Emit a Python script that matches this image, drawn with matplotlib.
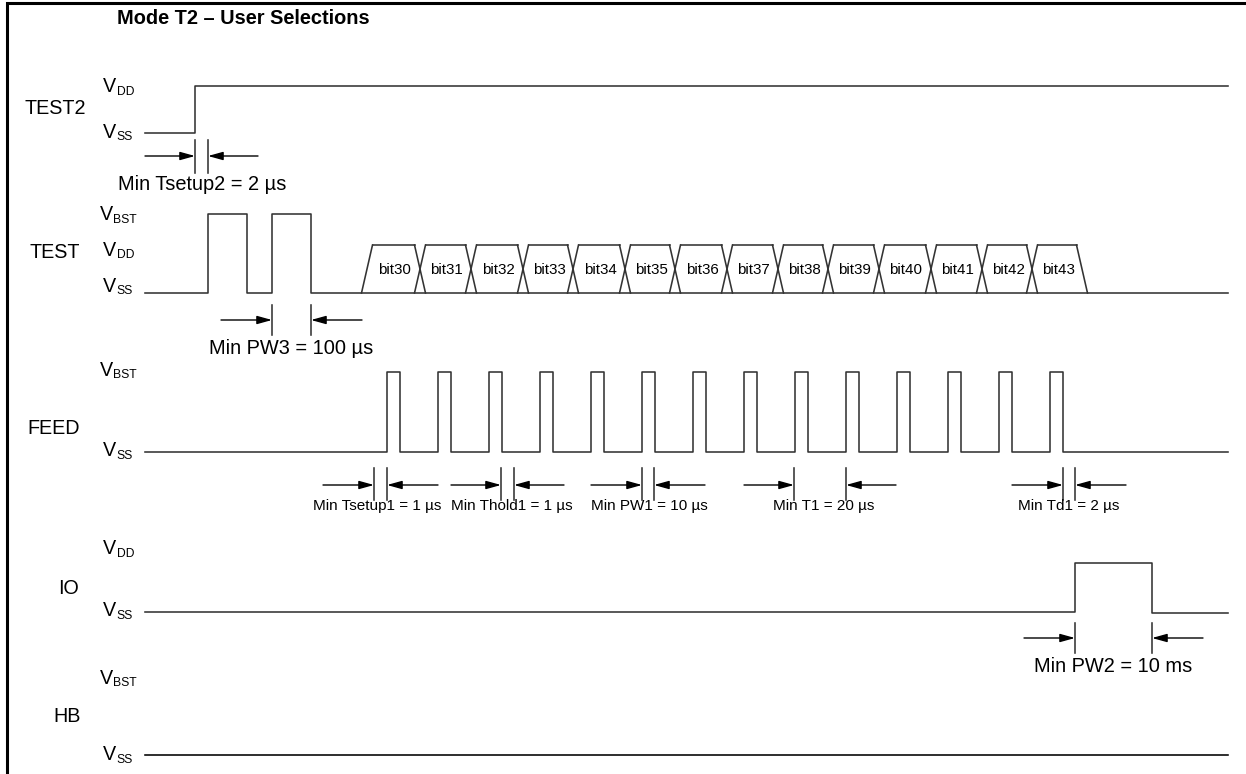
import matplotlib
matplotlib.use("Agg")
import matplotlib.pyplot as plt

# ---------------- data (time axis in diagram units) ----------------
t_start = 145
t_end = 1228
test2_rise = 195
test_pulse_starts = [208, 272]
test_pulse_ends = [247, 311]
bus_transitions = [367, 420, 471, 523, 573, 625, 675, 727, 778, 828, 879, 931, 982, 1032, 1082]
bit_labels = ["bit30", "bit31", "bit32", "bit33", "bit34", "bit35", "bit36",
              "bit37", "bit38", "bit39", "bit40", "bit41", "bit42", "bit43"]
feed_rises = [387, 438, 489, 540, 591, 642, 693, 744, 795, 846, 897, 948, 999, 1050]
feed_width = 13
io_pulse_start = 1075
io_pulse_end = 1152

signal_names = ["TEST2", "TEST", "FEED", "IO", "HB"]

# timing annotations: (edge A, edge B, text)
ann_marks_a = [195, 272, 374, 501, 642, 794, 1063, 1075]
ann_marks_b = [208, 311, 387, 514, 654, 846, 1075, 1152]
ann_texts = ["Min Tsetup2 = 2 µs", "Min PW3 = 100 µs", "Min Tsetup1 = 1 µs",
             "Min Thold1 = 1 µs", "Min PW1 = 10 µs", "Min T1 = 20 µs",
             "Min Td1 = 2 µs", "Min PW2 = 10 ms"]

# ---------------- layout ----------------
W, H = 1246, 774
fig = plt.figure(figsize=(W / 100, H / 100), dpi=100)
ax = fig.add_axes([0, 0, 1, 1])
ax.set_xlim(0, W)
ax.set_ylim(H, 0)
ax.axis("off")

FONT = "Liberation Sans"
LC = "#333333"
LW = 1.15

# border (left and top)
ax.plot([7, 7, W + 5], [H + 5, 3, 3], color="black", lw=2.2, solid_joinstyle="miter")

ax.text(117, 19, "Mode T2 – User Selections", fontsize=14.4, fontweight="bold",
        family=FONT, ha="left", va="center")

# signal labels
label_pos = {"TEST2": (55, 109), "TEST": (55, 253), "FEED": (54, 428), "IO": (68, 588), "HB": (67, 717)}
for name in signal_names:
    x, y = label_pos[name]
    ax.text(x, y, name, fontsize=14.2, family=FONT, ha="center", va="center")

def vlabel(x, y, sub):
    ax.text(x, y, "V", fontsize=14.2, family=FONT, ha="left", va="center")
    ax.text(x + 13.5, y + 5, sub, fontsize=8.7, family=FONT, ha="left", va="center")

for x, y, s in [(103, 87, "DD"), (103, 132, "SS"),
                (100, 215, "BST"), (103, 250, "DD"), (103, 286, "SS"),
                (100, 370, "BST"), (103, 451, "SS"),
                (103, 549, "DD"), (103, 611, "SS"),
                (100, 678, "BST"), (103, 755, "SS")]:
    vlabel(x, y, s)

# ---------------- waveforms ----------------
# TEST2
y_lo, y_hi = 133, 86
ax.plot([t_start, test2_rise, test2_rise, t_end], [y_lo, y_lo, y_hi, y_hi], color=LC, lw=LW)

# TEST
y_lo, y_hi = 293, 214
xs, ys = [t_start], [y_lo]
for a, b in zip(test_pulse_starts, test_pulse_ends):
    xs += [a, a, b, b]
    ys += [y_lo, y_hi, y_hi, y_lo]
xs.append(t_end)
ys.append(y_lo)
ax.plot(xs, ys, color=LC, lw=LW)

# bus
bus_top, bus_bot = 245, 293
h = 5.5
t0 = bus_transitions[0]
t_last = bus_transitions[-1]
ax.plot([t0 - h, t0 + h], [bus_bot, bus_top], color=LC, lw=LW)
ax.plot([t_last - h, t_last + h], [bus_top, bus_bot], color=LC, lw=LW)
for t in bus_transitions[1:-1]:
    ax.plot([t - h, t + h], [bus_top, bus_bot], color=LC, lw=LW)
    ax.plot([t - h, t + h], [bus_bot, bus_top], color=LC, lw=LW)
for i, lab in enumerate(bit_labels):
    a, b = bus_transitions[i], bus_transitions[i + 1]
    ax.plot([a + h, b - h], [bus_top, bus_top], color=LC, lw=LW)
    ax.text((a + b) / 2 + 1, (bus_top + bus_bot) / 2 + 1, lab, fontsize=10.9, family=FONT,
            ha="center", va="center")

# FEED
y_lo, y_hi = 452, 372
xs, ys = [t_start], [y_lo]
for r in feed_rises:
    xs += [r, r, r + feed_width, r + feed_width]
    ys += [y_lo, y_hi, y_hi, y_lo]
xs.append(t_end)
ys.append(y_lo)
ax.plot(xs, ys, color=LC, lw=LW)

# IO
y_lo, y_hi = 612, 563
ax.plot([t_start, io_pulse_start, io_pulse_start, io_pulse_end, io_pulse_end, t_end],
        [y_lo, y_lo, y_hi, y_hi, y_lo + 1, y_lo + 1], color=LC, lw=LW)

# HB
ax.plot([t_start, t_end], [755, 755], color="black", lw=LW)

# ---------------- annotations ----------------
# (marker top, marker bottom, arrow y, arrow length, text x, text y, font size)
ann_geom = [
    (140, 173, 156, 50, 202, 185, 14.4),
    (305, 335, 320, 51, 291, 349, 14.4),
    (468, 500, 485, 51, 377, 506, 11),
    (468, 500, 485, 50, 512, 506, 11),
    (468, 500, 485, 51, 649, 506, 11),
    (468, 500, 485, 50, 824, 506, 11),
    (468, 500, 485, 51, 1069, 506, 11),
    (623, 653, 638, 51, 1113, 666, 14.4),
]
for a, b, txt, (ytop, ybot, yarr, alen, tx, ty, fs) in zip(ann_marks_a, ann_marks_b, ann_texts, ann_geom):
    ax.plot([a, a], [ytop, ybot], color=LC, lw=LW)
    ax.plot([b, b], [ytop, ybot], color=LC, lw=LW)
    style = "-|>,head_length=0.9,head_width=0.25"
    ax.annotate("", xy=(a, yarr), xytext=(a - alen, yarr),
                arrowprops=dict(arrowstyle=style, mutation_scale=10, lw=1.0, color="black",
                                shrinkA=0, shrinkB=0))
    ax.annotate("", xy=(b, yarr), xytext=(b + alen, yarr),
                arrowprops=dict(arrowstyle=style, mutation_scale=10, lw=1.0, color="black",
                                shrinkA=0, shrinkB=0))
    ax.text(tx, ty, txt, fontsize=fs, family=FONT, ha="center", va="center")

fig.savefig("out.png", dpi=100)
